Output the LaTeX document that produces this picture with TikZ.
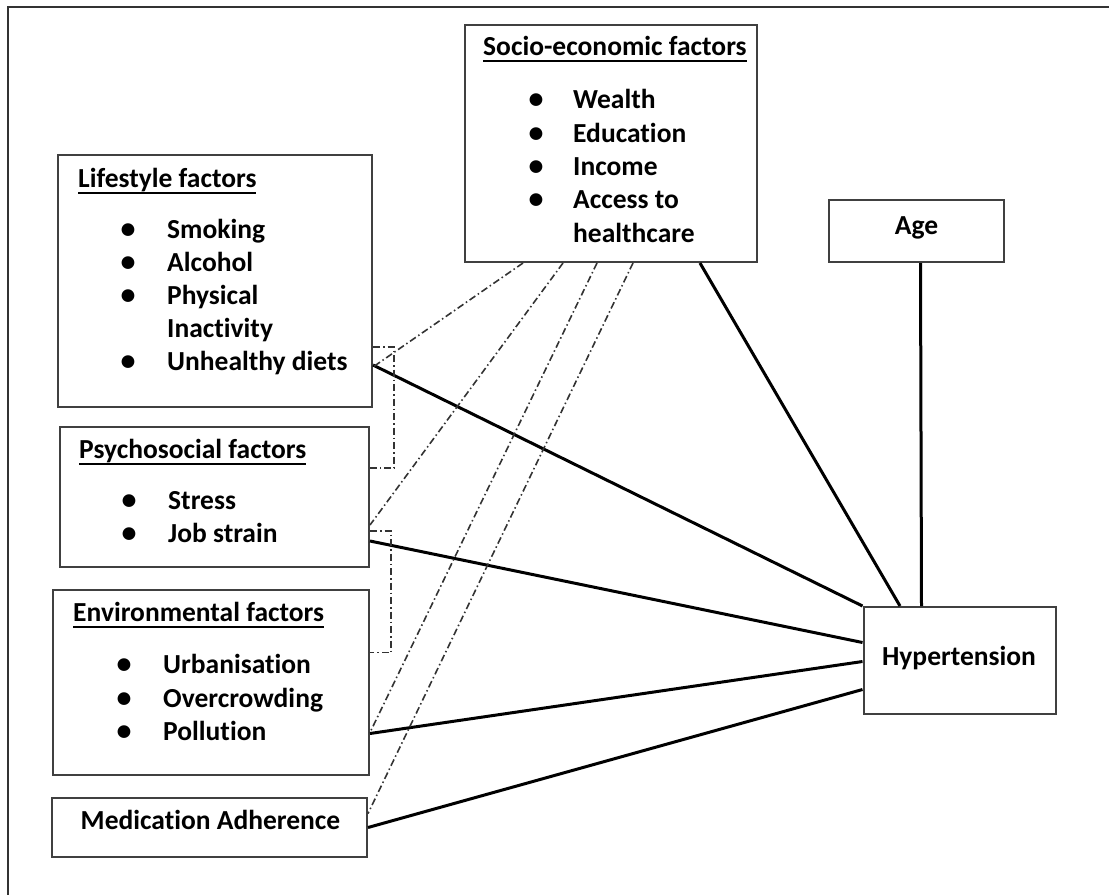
\documentclass[tikz,border=0pt]{standalone}
\usepackage{fontspec}
\setmainfont{Carlito}[Ligatures=NoCommon]
\newcommand{\ulhead}[1]{\setbox0\hbox{#1}\rlap{\rule[-6.8pt]{\wd0}{1.6pt}}\box0}
\begin{document}
\begin{tikzpicture}[x=1pt,y=-1pt,
  every node/.style={font=\fontsize{27.5}{33}\selectfont\bfseries,inner sep=0pt},
  box/.style={draw=black!75,line width=2pt},
  item/.style={anchor=base west},
  dot/.style={anchor=base},
  link/.style={line width=3pt},
  dashlink/.style={black!80,line width=1.6pt,dash pattern=on 7pt off 3pt on 1.5pt off 3pt}]
  \useasboundingbox (0,0) rectangle (1109,895);
  \draw[black!80,line width=2pt] (1109,7) -- (8,7) -- (8,895);
  \node[box,minimum width=292pt,minimum height=237pt] (soc) at (611,143.5) {};
  \node[box,minimum width=314pt,minimum height=252pt] (life) at (215,281) {};
  \node[box,minimum width=309pt,minimum height=140pt] (psy) at (214.5,497) {};
  \node[box,minimum width=316pt,minimum height=185pt] (env) at (211,682.5) {};
  \node[box,minimum width=315pt,minimum height=59pt] (med) at (209.5,827.5) {};
  \node[box,minimum width=175pt,minimum height=62pt] (age) at (916.5,231) {};
  \node[box,minimum width=192pt,minimum height=107pt] (hyp) at (959.5,660.5) {};
  \node[item] (socHead) at (483,55) {\ulhead{Socio-economic factors}};
  \foreach \y/\label [count=\i] in {108/Wealth,142/Education,175/Income,208/Access to}{
    \node[dot] (socDot\i) at (536,\y) {\fontsize{30}{30}\selectfont\textbullet};
    \node[item] (socItem\i) at (573,\y) {\label};
  }
  \node[item] (socItem5) at (573,242) {healthcare};
  \node[item] (lifeHead) at (78,187) {\ulhead{Lifestyle factors}};
  \foreach \y/\label [count=\i] in {238/Smoking,271/Alcohol,304/Physical,370/Unhealthy diets}{
    \node[dot] (lifeDot\i) at (128,\y) {\fontsize{30}{30}\selectfont\textbullet};
    \node[item] (lifeItem\i) at (167,\y) {\label};
  }
  \node[item] (lifeItem5) at (167,337) {Inactivity};
  \node[item] (psyHead) at (79,458) {\ulhead{Psychosocial factors}};
  \foreach \y/\label [count=\i] in {509/Stress,542/Job strain}{
    \node[dot] (psyDot\i) at (129,\y) {\fontsize{30}{30}\selectfont\textbullet};
    \node[item] (psyItem\i) at (168,\y) {\label};
  }
  \node[item] (envHead) at (73,621) {\ulhead{Environmental factors}};
  \foreach \y/\label [count=\i] in {673/Urbanisation,707/Overcrowding,740/Pollution}{
    \node[dot] (envDot\i) at (124,\y) {\fontsize{30}{30}\selectfont\textbullet};
    \node[item] (envItem\i) at (163,\y) {\label};
  }
  \node[dot] (medText) at (210.5,829) {Medication Adherence};
  \node[dot] (ageText) at (916.5,234) {Age};
  \node[dot] (hypText) at (959,665) {Hypertension};
  \draw[link] ([xshift=4pt]age.south) -- ([xshift=-38pt]hyp.north);
  \draw[link] ([xshift=89pt]soc.south) -- ([xshift=-59.5pt]hyp.north);
  \draw[link] ([yshift=-84pt]life.east) -- (hyp.north west);
  \draw[link] ([yshift=-44pt]psy.east) -- ([yshift=18pt]hyp.west);
  \draw[link] ([yshift=-51pt]env.east) -- ([yshift=-1pt]hyp.west);
  \draw[link] (med.east) -- ([yshift=-29pt]hyp.west);
  \draw[dashlink] ([xshift=-88pt]soc.south) -- ([yshift=-86pt]life.east);
  \draw[dashlink] ([xshift=-48pt]soc.south) -- ([yshift=-28pt]psy.east);
  \draw[dashlink] ([xshift=-14pt]soc.south) -- ([yshift=-50pt]env.east);
  \draw[dashlink] ([xshift=22pt]soc.south) -- ([yshift=14pt]med.east);
  \draw[dashlink] ([yshift=-66pt]life.east) -- ++(21,0) |- ([yshift=29pt]psy.east);
  \draw[dashlink] ([yshift=-34pt]psy.east) -- ++(21,0) |- ([yshift=30pt]env.east);
\end{tikzpicture}
\end{document}
